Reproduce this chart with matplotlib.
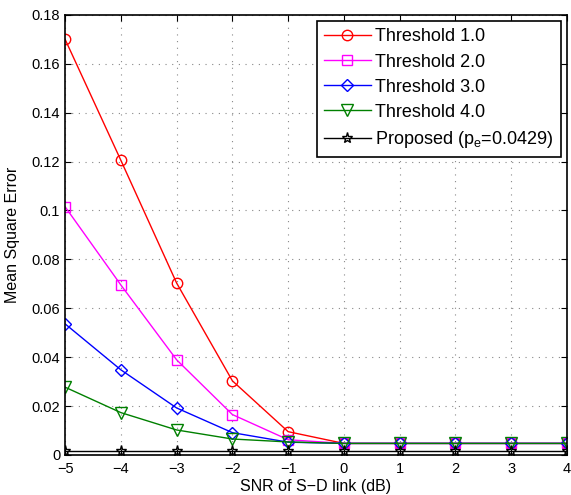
import matplotlib
matplotlib.use("Agg")
import matplotlib.pyplot as plt

plt.rcParams['font.family'] = ['Liberation Sans', 'DejaVu Sans']

# SNR of the S-D link in dB
snr = [-5, -4, -3, -2, -1, 0, 1, 2, 3, 4]

# mean square error for each threshold setting
mse_th1 = [0.170, 0.1205, 0.0703, 0.0303, 0.0095, 0.0047, 0.0047, 0.0047, 0.0047, 0.0047]
mse_th2 = [0.1015, 0.0695, 0.0389, 0.0165, 0.0062, 0.0047, 0.0047, 0.0047, 0.0047, 0.0047]
mse_th3 = [0.0536, 0.0348, 0.0192, 0.0091, 0.0052, 0.0047, 0.0047, 0.0047, 0.0047, 0.0047]
mse_th4 = [0.0277, 0.0173, 0.0102, 0.0065, 0.0053, 0.0047, 0.0047, 0.0047, 0.0047, 0.0047]
mse_prop = [0.0015] * 10

yticks = [0, 0.02, 0.04, 0.06, 0.08, 0.1, 0.12, 0.14, 0.16, 0.18]
ytick_labels = ["0", "0.02", "0.04", "0.06", "0.08", "0.1", "0.12", "0.14", "0.16", "0.18"]

fig = plt.figure(figsize=(5.71, 4.95), dpi=100)
ax = fig.add_axes([0.114, 0.081, 0.879, 0.889])

ax.plot(snr, mse_th1, color='red', marker='o', mfc='none', ms=7.5, lw=1, label="Threshold 1.0")
ax.plot(snr, mse_th2, color='magenta', marker='s', mfc='none', ms=6.5, lw=1, label="Threshold 2.0")
ax.plot(snr, mse_th3, color='blue', marker='D', mfc='none', ms=6, lw=1, label="Threshold 3.0")
ax.plot(snr, mse_th4, color='#008000', marker='v', mfc='none', ms=8.5, lw=1, label="Threshold 4.0")
ax.plot(snr, mse_prop, color='black', marker='*', mfc='none', ms=8, lw=1, label="Proposed (p$_\\mathregular{e}$=0.0429)")

ax.set_xlim(-5, 4)
ax.set_ylim(0, 0.18)
ax.set_xticks(snr)
ax.set_xticklabels([str(v).replace('-', '\u2212') for v in snr])
ax.set_yticks(yticks)
ax.set_yticklabels(ytick_labels)
ax.tick_params(direction='in', top=True, right=True, labelsize=10.5, length=4)
ax.tick_params(axis='x', pad=5)
ax.grid(True, linestyle=(0, (1, 5)), color='#888888', linewidth=0.8)

for s in ax.spines.values():
    s.set_linewidth(1.2)

ax.set_xlabel("SNR of S\u2212D link (dB)", fontsize=11.5, labelpad=2)
ax.set_ylabel("Mean Square Error", fontsize=11.5, labelpad=8)

leg = ax.legend(loc='upper right', fontsize=13, fancybox=False, framealpha=1,
                edgecolor='black', borderpad=0.4, labelspacing=0.45,
                handlelength=2.6, handletextpad=0.25, borderaxespad=0.35)
leg.get_frame().set_linewidth(1.2)

fig.savefig("out.png", dpi=100)
